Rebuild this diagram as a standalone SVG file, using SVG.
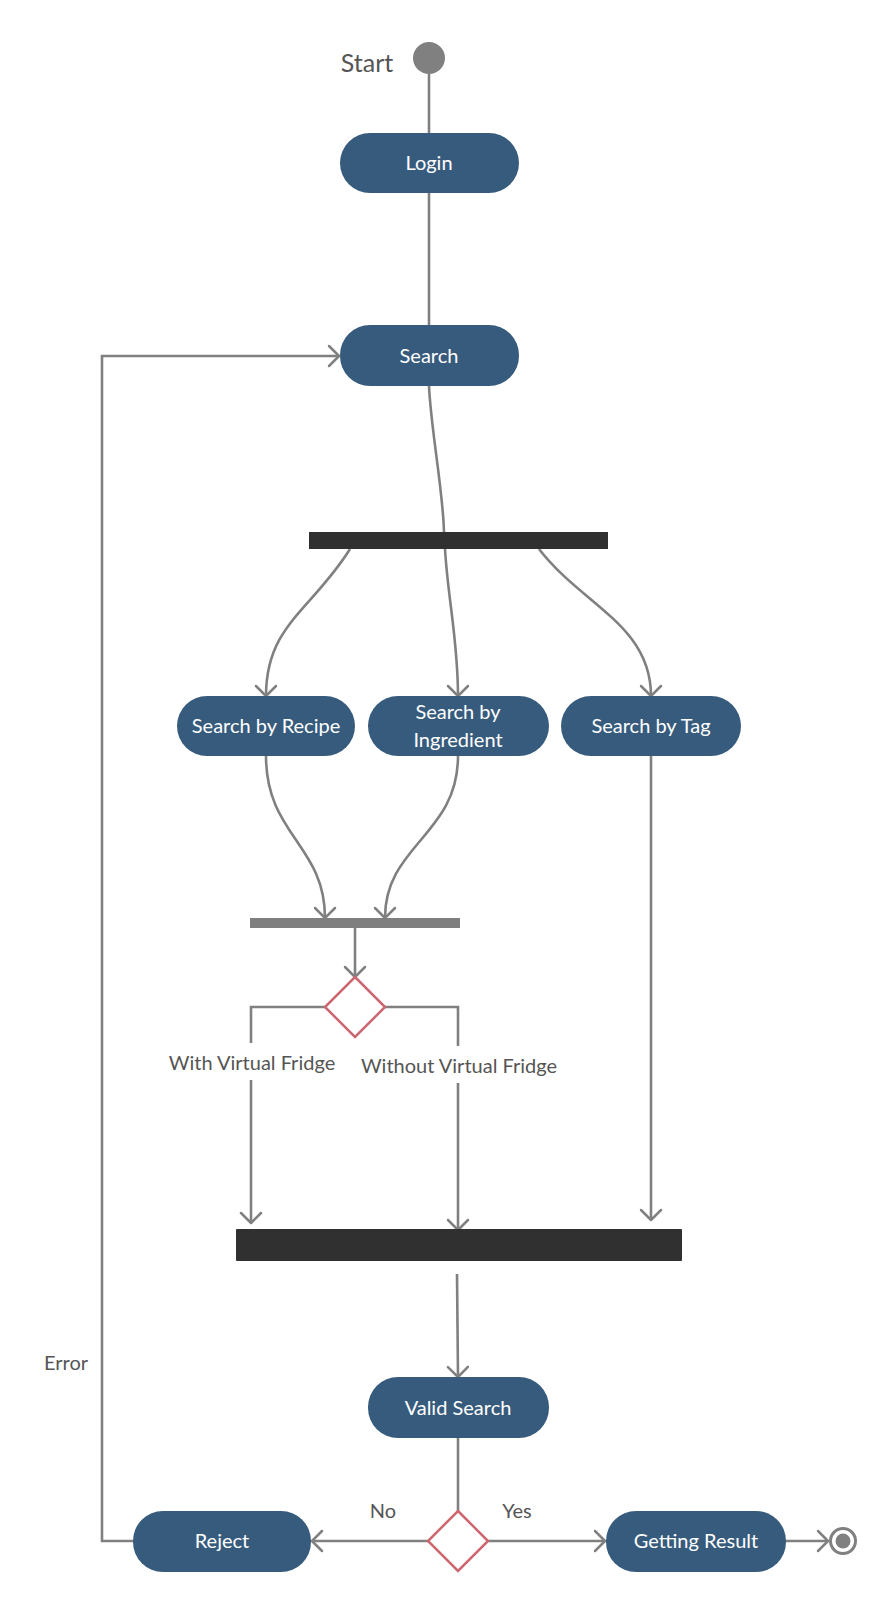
<svg xmlns="http://www.w3.org/2000/svg" width="888" height="1600" viewBox="0 0 888 1600">
<defs>
<marker id="arr" viewBox="-12 -12 14 24" markerWidth="14" markerHeight="24" refX="0" refY="0" orient="auto" markerUnits="userSpaceOnUse">
<path d="M -10 -10 L 0 0 L -10 10" fill="none" stroke="#808080" stroke-width="2.5" stroke-linecap="round" stroke-linejoin="round"/>
</marker>
<style>
.pill{fill:#375b7d;}
.pt{font-family:Lato,"Liberation Sans",sans-serif;font-size:20px;fill:#ffffff;text-anchor:middle;}
.lbl{font-family:Lato,"Liberation Sans",sans-serif;font-size:20px;fill:#555555;text-anchor:middle;}
.c{fill:none;stroke:#808080;stroke-width:2.6;}
.a{marker-end:url(#arr);}
.dia{fill:#ffffff;stroke:#cc6670;stroke-width:2.5;}
.bar{fill:#303030;}
</style>
</defs>
<rect width="888" height="1600" fill="#ffffff"/>

<g id="connectors">
<path class="c" d="M 429 74 L 429 133"/>
<path class="c" d="M 429 193 L 429 325"/>
<path class="c" d="M 429 386 C 431 430, 443 490, 444 532"/>
<path class="c a" d="M 350 549 C 312 610, 266 625, 266 696"/>
<path class="c a" d="M 445 549 C 448 600, 458 640, 458 696"/>
<path class="c a" d="M 539 549 C 582 605, 651 625, 651 696"/>
<path class="c a" d="M 266 756 C 266 835, 325 845, 325 918"/>
<path class="c a" d="M 458 756 C 458 835, 385 845, 385 918"/>
<path class="c a" d="M 355 928 L 355 977"/>
<path class="c" d="M 326 1007 L 251 1007 L 251 1043"/>
<path class="c a" d="M 251 1080 L 251 1223"/>
<path class="c" d="M 384 1007 L 458 1007 L 458 1046"/>
<path class="c a" d="M 458 1083 L 458 1230"/>
<path class="c a" d="M 651 756 L 651 1220"/>
<path class="c a" d="M 457 1274 L 458 1377"/>
<path class="c" d="M 458 1438 L 458 1511"/>
<path class="c a" d="M 428 1541 L 312 1541"/>
<path class="c a" d="M 488 1541 L 605 1541"/>
<path class="c a" d="M 786 1541 L 828 1541"/>
<path class="c a" d="M 133 1541 L 102 1541 L 102 356 L 339 356"/>
<text class="lbl" x="252" y="1070">With Virtual Fridge</text>
<text class="lbl" x="459" y="1073">Without Virtual Fridge</text>
<text class="lbl" x="66" y="1370">Error</text>
<text class="lbl" x="383" y="1518">No</text>
<text class="lbl" x="517" y="1518">Yes</text>
</g>

<g id="start">
<circle cx="429" cy="58" r="16" fill="#808080"/>
<text x="367" y="72" font-family="Lato,'Liberation Sans',sans-serif" font-size="25" fill="#555555" text-anchor="middle">Start</text>
</g>
<g id="login">
<rect class="pill" x="340" y="133" width="179" height="60" rx="30"/>
<text class="pt" x="429" y="170">Login</text>
</g>
<g id="search">
<rect class="pill" x="340" y="325" width="179" height="61" rx="30"/>
<text class="pt" x="429" y="362.5">Search</text>
</g>
<g id="fork1">
<rect class="bar" x="309" y="532" width="299" height="17"/>
</g>
<g id="search-recipe">
<rect class="pill" x="177" y="696" width="178" height="60" rx="30"/>
<text class="pt" x="266" y="733">Search by Recipe</text>
</g>
<g id="search-ingredient">
<rect class="pill" x="368" y="696" width="181" height="60" rx="30"/>
<text class="pt" x="458" y="719">Search by</text>
<text class="pt" x="458" y="747">Ingredient</text>
</g>
<g id="search-tag">
<rect class="pill" x="561" y="696" width="180" height="60" rx="30"/>
<text class="pt" x="651" y="733">Search by Tag</text>
</g>
<g id="join1">
<rect x="250" y="918" width="210" height="10" fill="#7f7f7f"/>
</g>
<g id="decision1">
<polygon class="dia" points="355,977 385,1007 355,1037 325,1007"/>
</g>
<g id="join2">
<rect class="bar" x="236" y="1229" width="446" height="32" rx="1"/>
</g>
<g id="valid-search">
<rect class="pill" x="368" y="1377" width="181" height="61" rx="30"/>
<text class="pt" x="458" y="1414.5">Valid Search</text>
</g>
<g id="decision2">
<polygon class="dia" points="458,1511 488,1541 458,1571 428,1541"/>
</g>
<g id="reject">
<rect class="pill" x="133" y="1511" width="178" height="61" rx="30"/>
<text class="pt" x="222" y="1548">Reject</text>
</g>
<g id="getting-result">
<rect class="pill" x="606" y="1511" width="180" height="61" rx="30"/>
<text class="pt" x="696" y="1548">Getting Result</text>
</g>
<g id="end">
<circle cx="843" cy="1541" r="12.5" fill="#ffffff" stroke="#808080" stroke-width="3"/>
<circle cx="843" cy="1541" r="7.5" fill="#808080"/>
</g>
</svg>
